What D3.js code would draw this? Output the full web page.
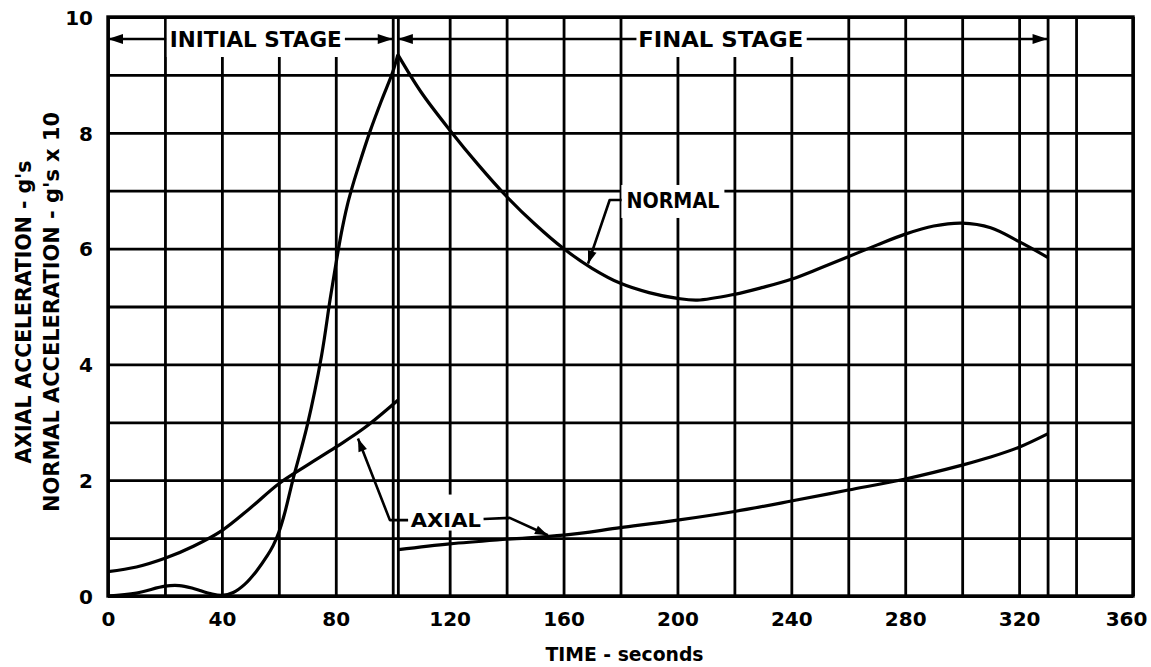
<!DOCTYPE html>
<html>
<head>
<meta charset="utf-8">
<script src="https://cdn.jsdelivr.net/npm/d3@7"></script>
<style>
  html, body { margin: 0; padding: 0; background: #fff; }
  svg { display: block; }
  text { font-family: "DejaVu Sans", "Liberation Sans", sans-serif; font-weight: bold; fill: #000; }
</style>
</head>
<body>
<svg id="chart" width="1151" height="667"></svg>
<script>
// Time (s) and acceleration readings for each curve
const normalInitialT = [0, 10, 20, 25, 30, 36, 40, 44, 48, 52, 56, 58, 60, 62, 65, 70, 75, 78, 80, 82, 84, 86, 88, 92, 96, 100, 101.8];
const normalInitialG = [0, 0.05, 0.17, 0.18, 0.13, 0.04, 0.01, 0.06, 0.2, 0.42, 0.7, 0.87, 1.1, 1.42, 2.02, 2.95, 4.15, 5.12, 5.72, 6.28, 6.74, 7.1, 7.42, 8.02, 8.55, 9.05, 9.35];

const normalFinalT = [101.8, 110, 120, 130, 140, 150, 160, 170, 180, 190, 200, 207, 220, 230, 240, 250, 260, 270, 280, 290, 300, 310, 320, 330];
const normalFinalG = [9.35, 8.7, 8.05, 7.45, 6.9, 6.42, 6.0, 5.66, 5.4, 5.24, 5.14, 5.11, 5.21, 5.33, 5.47, 5.66, 5.86, 6.06, 6.25, 6.39, 6.44, 6.36, 6.12, 5.85];

const axialInitialT = [0, 10, 20, 30, 40, 50, 60, 70, 80, 90, 101.8];
const axialInitialG = [0.42, 0.5, 0.65, 0.86, 1.13, 1.52, 1.94, 2.26, 2.57, 2.9, 3.38];

const axialFinalT = [102, 120, 140, 160, 180, 200, 220, 240, 260, 280, 300, 310, 320, 330];
const axialFinalG = [0.8, 0.9, 0.98, 1.05, 1.18, 1.31, 1.46, 1.64, 1.83, 2.02, 2.26, 2.4, 2.57, 2.8];

// Axis ticks and extra rulings
const xTickValues = [0, 40, 80, 120, 160, 200, 240, 280, 320, 360];
const xTickLabels = ["0", "40", "80", "120", "160", "200", "240", "280", "320", "360"];
const yTickValues = [0, 2, 4, 6, 8, 10];
const yTickLabels = ["0", "2", "4", "6", "8", "10"];
const xGridValues = d3.range(0, 361, 20).concat([101.8, 330]);
const yGridValues = d3.range(0, 11, 1);

// Stage boundaries (s)
const stageStart = 0, stageBreak = 100, finalStart = 101.8, stageEnd = 330;
const stageLevel = 9.62;

const xTitle = "TIME - seconds";
const yTitleLines = ["AXIAL ACCELERATION - g's", "NORMAL ACCELERATION - g's x 10"];

const svg = d3.select("#chart");
const x = d3.scaleLinear().domain([0, 360]).range([108, 1133]);
const y = d3.scaleLinear().domain([0, 10]).range([596, 17]);
const plotTop = y(10), plotBottom = y(0), plotLeft = x(0), plotRight = x(360);

// Grid
const gridX = d3.axisBottom(x).tickValues(xGridValues).tickSize(-(plotBottom - plotTop)).tickFormat("");
svg.append("g").attr("transform", `translate(0,${plotBottom})`).call(gridX)
  .call(g => g.select(".domain").remove())
  .call(g => g.selectAll("line").attr("stroke", "#000").attr("stroke-width", 2.8));
const gridY = d3.axisLeft(y).tickValues(yGridValues).tickSize(-(plotRight - plotLeft)).tickFormat("");
svg.append("g").attr("transform", `translate(${plotLeft},0)`).call(gridY)
  .call(g => g.select(".domain").remove())
  .call(g => g.selectAll("line").attr("stroke", "#000").attr("stroke-width", 2.8));

// Tick labels
svg.append("g").attr("transform", `translate(0,${plotBottom + 13})`)
  .call(d3.axisBottom(x).tickValues(xTickValues).tickSize(0).tickFormat((d, i) => xTickLabels[i]))
  .call(g => g.select(".domain").remove())
  .call(g => g.selectAll("text").attr("font-size", 20).attr("font-family", "DejaVu Sans").attr("font-weight", "bold")
    .attr("dx", d => d === 360 ? -7 : 0));
svg.append("g").attr("transform", `translate(${plotLeft - 12},0)`)
  .call(d3.axisLeft(y).tickValues(yTickValues).tickSize(0).tickFormat((d, i) => yTickLabels[i]))
  .call(g => g.select(".domain").remove())
  .call(g => g.selectAll("text").attr("font-size", 20).attr("font-family", "DejaVu Sans").attr("font-weight", "bold").attr("dy", "0.36em"));

// Labels over the grid, each with a white patch behind it
const labelLayer = svg.append("g");
function label(txt, cx, cy, size, len, pad) {
  const g = labelLayer.append("g");
  const rect = g.append("rect").attr("fill", "#fff");
  const t = g.append("text").attr("x", cx).attr("y", cy).attr("text-anchor", "middle")
    .attr("dy", "0.36em").attr("font-size", size).text(txt);
  if (len) t.attr("textLength", len).attr("lengthAdjust", "spacingAndGlyphs");
  const b = t.node().getBBox();
  rect.attr("x", b.x - pad[0]).attr("y", cy - pad[1]).attr("width", b.width + 2 * pad[0]).attr("height", pad[1] + pad[2]);
  return t;
}

const line = d3.line().x(d => x(d[0])).y(d => y(d[1])).curve(d3.curveCatmullRom.alpha(0.5));
const curves = [
  [normalInitialT, normalInitialG],
  [normalFinalT, normalFinalG],
  [axialInitialT, axialInitialG],
  [axialFinalT, axialFinalG]
];
svg.append("g").selectAll("path").data(curves).join("path")
  .attr("d", c => line(c[0].map((t, i) => [t, c[1][i]])))
  .attr("fill", "none").attr("stroke", "#000").attr("stroke-width", 3.2).attr("stroke-linejoin", "round");

// Stage labels
label("INITIAL STAGE", (x(21.6) + x(82.2)) / 2, y(stageLevel), 22, 172, [3, 20, 18]);
label("FINAL STAGE", (x(186.2) + x(244.2)) / 2, y(stageLevel), 22, 165, [5, 20, 18]);
label("NORMAL", (x(182.1) + x(214.7)) / 2, y(6.84), 21, 93, [5, 15, 18]);
label("AXIAL", (x(106.3) + x(131)) / 2, y(1.32), 20, 70, [5, 25, 11]);

// Arrow helpers
function arrowHead(tip, from, len, half) {
  const dx = tip[0] - from[0], dy = tip[1] - from[1];
  const L = Math.hypot(dx, dy), ux = dx / L, uy = dy / L;
  const bx = tip[0] - ux * len, by = tip[1] - uy * len;
  svg.append("path")
    .attr("d", `M${tip[0]},${tip[1]}L${bx - uy * half},${by + ux * half}L${bx + uy * half},${by - ux * half}Z`)
    .attr("fill", "#000");
}
function leader(pts, headLen, headHalf) {
  const p = pts.map(d => [x(d[0]), y(d[1])]);
  svg.append("path").attr("d", d3.line()(p)).attr("fill", "none")
    .attr("stroke", "#000").attr("stroke-width", 2.6).attr("stroke-linejoin", "round");
  arrowHead(p[p.length - 1], p[p.length - 2], headLen, headHalf);
}

// Stage extent arrows
leader([[20.4, stageLevel], [stageStart, stageLevel]], 15, 5);
leader([[83.2, stageLevel], [stageBreak, stageLevel]], 15, 5);
leader([[185.6, stageLevel], [finalStart, stageLevel]], 15, 5);
leader([[245.4, stageLevel], [stageEnd, stageLevel]], 15, 5);

// Curve call-outs
leader([[180.4, 6.84], [176.2, 6.84], [168.6, 5.74]], 13, 4.5);
leader([[105.4, 1.31], [99.0, 1.31], [87.8, 2.72]], 13, 4.5);
leader([[131.9, 1.33], [141.1, 1.35], [154.5, 1.05]], 13, 4.5);

// Frame
svg.append("rect").attr("x", plotLeft).attr("y", plotTop).attr("width", plotRight - plotLeft).attr("height", plotBottom - plotTop)
  .attr("fill", "none").attr("stroke", "#000").attr("stroke-width", 3.4);

// Axis titles
svg.append("text").attr("x", (plotLeft + plotRight) / 2 + 4).attr("y", 654).attr("text-anchor", "middle")
  .attr("dy", "0.36em").attr("font-size", 19).attr("textLength", 158).attr("lengthAdjust", "spacingAndGlyphs")
  .text(xTitle);
const yTitleX = [23.5, 51.5];
const yTitleLen = [303, 400];
yTitleLines.forEach((s, i) => {
  svg.append("text").attr("transform", `translate(${yTitleX[i]},312) rotate(-90)`)
    .attr("text-anchor", "middle").attr("dy", "0.36em").attr("font-size", 21)
    .attr("textLength", yTitleLen[i]).attr("lengthAdjust", "spacingAndGlyphs").text(s);
});
</script>
</body>
</html>
